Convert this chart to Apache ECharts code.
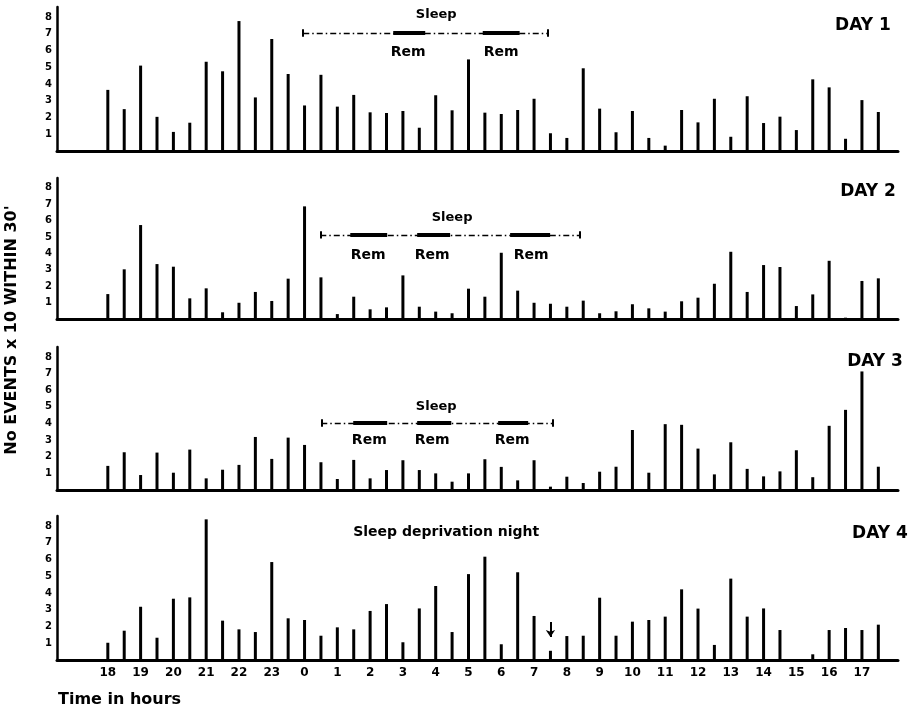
<!DOCTYPE html>
<html>
<head>
<meta charset="utf-8">
<script src="https://cdn.jsdelivr.net/npm/echarts@6/dist/echarts.min.js"></script>
<style>html,body{margin:0;padding:0;background:#fff}#chart{width:916px;height:708px}</style>
</head>
<body>
<div id="chart"></div>
<script>
// Half-hour slots from 18:00 (index 0) to 17:30 (index 47)
const hourLabels = ['18','19','20','21','22','23','0','1','2','3','4','5','6','7','8','9','10','11','12','13','14','15','16','17'];
const dayNames = ['DAY 1','DAY 2','DAY 3','DAY 4'];
const yTicks = [1,2,3,4,5,6,7,8];

const day1 = [3.65,2.5,5.1,2.04,1.14,1.69,5.33,4.76,7.76,3.2,6.69,4.6,2.72,4.55,2.65,3.35,2.31,2.27,2.39,1.39,3.33,2.43,
              5.47,2.29,2.21,2.45,3.12,1.06,0.78,4.94,2.53,1.12,2.39,0.78,0.32,2.45,1.71,3.12,0.85,3.27,1.67,2.05,1.25,4.28,3.8,0.73,3.04,2.33];
const day2 = [1.52,3.03,5.73,3.35,3.19,1.26,1.87,0.41,0.99,1.65,1.1,2.46,6.87,2.54,0.3,1.36,0.59,0.71,2.66,0.75,0.45,0.35,
              1.85,1.36,4.04,1.73,0.99,0.93,0.75,1.12,0.35,0.47,0.9,0.65,0.45,1.08,1.3,2.15,4.1,1.65,3.29,3.17,0.79,1.5,3.55,0.08,2.32,2.48];
const day3 = [1.45,2.27,0.9,2.25,1.04,2.43,0.7,1.22,1.51,3.19,1.87,3.15,2.71,1.67,0.66,1.81,0.7,1.2,1.79,1.2,1.0,0.5,
              1.0,1.85,1.39,0.58,1.79,0.2,0.8,0.42,1.1,1.4,3.61,1.04,3.96,3.92,2.49,0.94,2.87,1.27,0.82,1.12,2.39,0.77,3.86,4.82,7.13,1.4];
const day4 = [1.03,1.75,3.18,1.33,3.66,3.74,8.4,2.35,1.83,1.67,5.85,2.49,2.39,1.45,1.95,1.83,2.93,3.34,1.06,3.08,4.42,1.67,
              5.13,6.17,0.94,5.24,2.63,0.55,1.43,1.45,3.72,1.45,2.29,2.39,2.59,4.22,3.07,0.9,4.86,2.59,3.08,1.79,0.05,0.34,1.79,1.91,1.79,2.11];
const days = [day1, day2, day3, day4];

// Sleep annotations (in half-hour index units / event units)
const sleepSpans = [
  {from: 11.92, to: 26.86, level: 7.05, rem: [[17.41,19.36],[22.87,25.12]], textX: 20.03, textY: 8.12, remY: 5.9, remX: [18.32,23.99]},
  {from: 12.96, to: 28.81, level: 5.13, rem: [[14.79,17.04],[18.87,20.88],[24.54,26.98]], textX: 21.0, textY: 6.17, remY: 3.9, remX: [15.88,19.79,25.82]},
  {from: 13.02, to: 27.16, level: 4.03, rem: [[14.97,17.04],[18.87,20.95],[23.81,25.64]], textX: 20.03, textY: 4.99, remY: 3.0, remX: [15.95,19.79,24.66]},
  null
];
const dayLabelPos = [[46.06,7.52],[46.37,7.76],[46.8,7.7],[47.1,7.58]];

const grids = [
  {left: 57, right: 18, top: 7, height: 144},
  {left: 57, right: 18, top: 178, height: 141},
  {left: 57, right: 18, top: 347, height: 143},
  {left: 57, right: 18, top: 516, height: 144}
];

const FONT = 'DejaVu Sans';
const hourTickValues = hourLabels.map((_, i) => i * 2);

const xAxes = grids.map((g, k) => ({
  type: 'value', gridIndex: k, min: -3.1, max: 48.2,
  splitLine: {show: false},
  axisTick: {show: false},
  axisLine: {show: true, onZero: false, lineStyle: {color: '#000', width: 3}},
  axisLabel: k === 3 ? {
    show: true, customValues: hourTickValues, margin: 7,
    formatter: v => hourLabels[Math.round(v / 2)],
    color: '#000', fontFamily: FONT, fontWeight: 'bold', fontSize: 12
  } : {show: false}
}));

const yAxes = grids.map((g, k) => ({
  type: 'value', gridIndex: k, min: 0, max: 8.6,
  splitLine: {show: false},
  axisTick: {show: false},
  axisLine: {show: true, onZero: false, lineStyle: {color: '#000', width: 2.5}},
  axisLabel: {
    show: true, customValues: yTicks, margin: 5,
    color: '#000', fontFamily: FONT, fontWeight: 'bold', fontSize: 10
  }
}));

function textPoint(x, y, text, size) {
  return {coord: [x, y], symbol: 'circle', symbolSize: 0,
    label: {show: true, position: 'inside', formatter: text, color: '#000',
      fontFamily: FONT, fontWeight: 'bold', fontSize: size}};
}

const series = days.map((d, k) => {
  const s = {
    type: 'bar', xAxisIndex: k, yAxisIndex: k,
    data: d.map((v, i) => [i, v]),
    barWidth: 3,
    itemStyle: {color: '#000'},
    silent: true,
    animation: false
  };
  const mlData = [];
  const mpData = [];
  const sp = sleepSpans[k];
  if (sp) {
    mlData.push([{coord: [sp.from, sp.level], lineStyle: {type: [6, 3, 1.5, 3], width: 1.3, color: '#000'}},
                 {coord: [sp.to, sp.level]}]);
    mlData.push([{coord: [sp.from, sp.level - 0.22], lineStyle: {type: 'solid', width: 2, color: '#000'}},
                 {coord: [sp.from, sp.level + 0.22]}]);
    mlData.push([{coord: [sp.to, sp.level - 0.22], lineStyle: {type: 'solid', width: 2, color: '#000'}},
                 {coord: [sp.to, sp.level + 0.22]}]);
    sp.rem.forEach(r => {
      mlData.push([{coord: [r[0], sp.level], lineStyle: {type: 'solid', width: 4, color: '#000'}},
                   {coord: [r[1], sp.level]}]);
    });
    mpData.push(textPoint(sp.textX, sp.textY, 'Sleep', 13));
    sp.remX.forEach(x => mpData.push(textPoint(x, sp.remY, 'Rem', 14)));
  }
  if (k === 3) {
    mpData.push(textPoint(20.64, 7.64, 'Sleep deprivation night', 14));
    mlData.push([{coord: [27, 2.27], symbol: 'none', lineStyle: {type: 'solid', width: 2, color: '#000'}},
                 {coord: [27, 1.37], symbol: 'arrow', symbolSize: 7}]);
  }
  mpData.push(textPoint(dayLabelPos[k][0], dayLabelPos[k][1], dayNames[k], 17));
  s.markLine = {silent: true, symbol: ['none', 'none'], symbolSize: 7, label: {show: false}, animation: false, data: mlData};
  s.markPoint = {silent: true, animation: false, data: mpData};
  return s;
});

const chart = echarts.init(document.getElementById('chart'), null, {renderer: 'canvas'});
chart.setOption({
  backgroundColor: '#fff',
  animation: false,
  grid: grids,
  xAxis: xAxes,
  yAxis: yAxes,
  series: series,
  graphic: [
    {type: 'text', x: 12, y: 330, rotation: Math.PI / 2,
      style: {text: "No EVENTS x 10 WITHIN 30'", textAlign: 'center', textVerticalAlign: 'middle',
        fill: '#000', font: 'bold 16px "DejaVu Sans"'}},
    {type: 'text', x: 58, y: 700,
      style: {text: 'Time in hours', textAlign: 'left', textVerticalAlign: 'middle',
        fill: '#000', font: 'bold 16px "DejaVu Sans"'}}
  ]
});
</script>
</body>
</html>
